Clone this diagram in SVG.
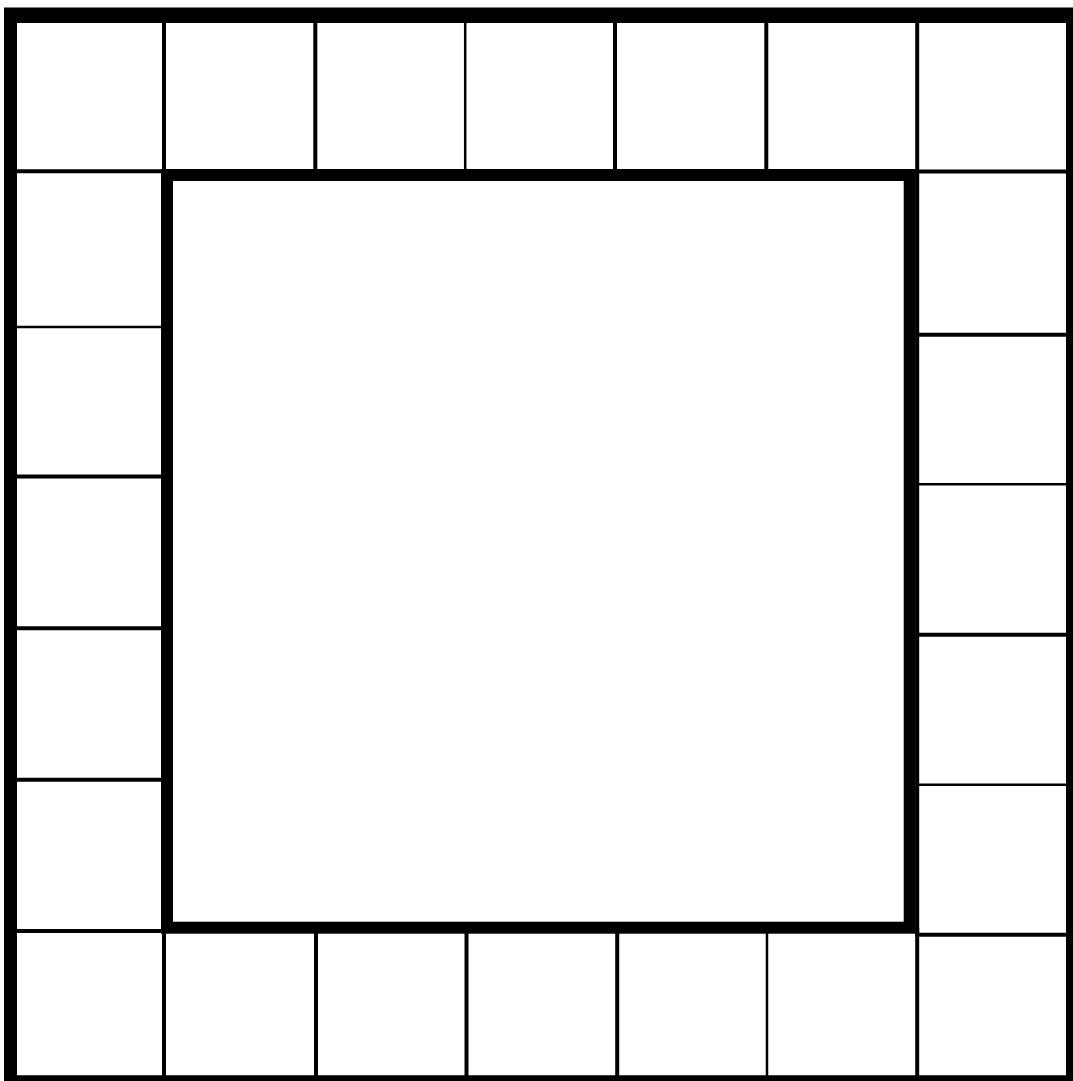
<svg xmlns="http://www.w3.org/2000/svg" width="1073" height="1081" viewBox="0 0 1073 1081">
<style>
.ln{stroke:#000;stroke-width:4;fill:none}
.th{stroke:#000;stroke-width:2.5;fill:none}
.frame{fill:#000;fill-rule:evenodd}
.inner{fill:none;stroke:#000;stroke-width:12}
</style>
<rect width="1073" height="1081" fill="#fff"/>
<g id="top-row">
<line class="ln" x1="164" y1="20" x2="164" y2="172"/>
<line class="ln" x1="315.3" y1="20" x2="315.3" y2="172"/>
<line class="th" x1="465.2" y1="20" x2="465.2" y2="172"/>
<line class="ln" x1="615" y1="20" x2="615" y2="172"/>
<line class="ln" x1="766.3" y1="20" x2="766.3" y2="172"/>
<line class="ln" x1="917.2" y1="20" x2="917.2" y2="172"/>
</g>
<g id="bottom-row">
<line class="ln" x1="164" y1="928" x2="164" y2="1078"/>
<line class="ln" x1="316" y1="928" x2="316" y2="1078"/>
<line class="ln" x1="466.5" y1="928" x2="466.5" y2="1078"/>
<line class="ln" x1="617.2" y1="928" x2="617.2" y2="1078"/>
<line class="th" x1="767" y1="928" x2="767" y2="1078"/>
<line class="ln" x1="917.2" y1="928" x2="917.2" y2="1078"/>
</g>
<g id="left-column">
<line class="ln" x1="14" y1="171.2" x2="164" y2="171.2"/>
<line class="th" x1="14" y1="327" x2="164" y2="327"/>
<line class="ln" x1="14" y1="476.5" x2="164" y2="476.5"/>
<line class="ln" x1="14" y1="628.3" x2="164" y2="628.3"/>
<line class="ln" x1="14" y1="779.7" x2="164" y2="779.7"/>
<line class="ln" x1="14" y1="931" x2="164" y2="931"/>
<line class="ln" x1="164" y1="170" x2="164" y2="932"/>
</g>
<g id="right-column">
<line class="ln" x1="917" y1="171.5" x2="1068" y2="171.5"/>
<line class="ln" x1="917" y1="334.8" x2="1068" y2="334.8"/>
<line class="th" x1="917" y1="484.2" x2="1068" y2="484.2"/>
<line class="ln" x1="917" y1="634.8" x2="1068" y2="634.8"/>
<line class="th" x1="917" y1="784.7" x2="1068" y2="784.7"/>
<line class="ln" x1="917" y1="934.8" x2="1068" y2="934.8"/>
<line class="ln" x1="917.2" y1="170" x2="917.2" y2="936"/>
</g>
<g id="center">
<rect class="inner" x="167" y="175" width="742.7" height="752.7"/>
</g>
<g id="outer-frame">
<path class="frame" d="M4 7.5H1090V1095H4Z M17 23V1075.3H1066V23Z"/>
</g>
</svg>
